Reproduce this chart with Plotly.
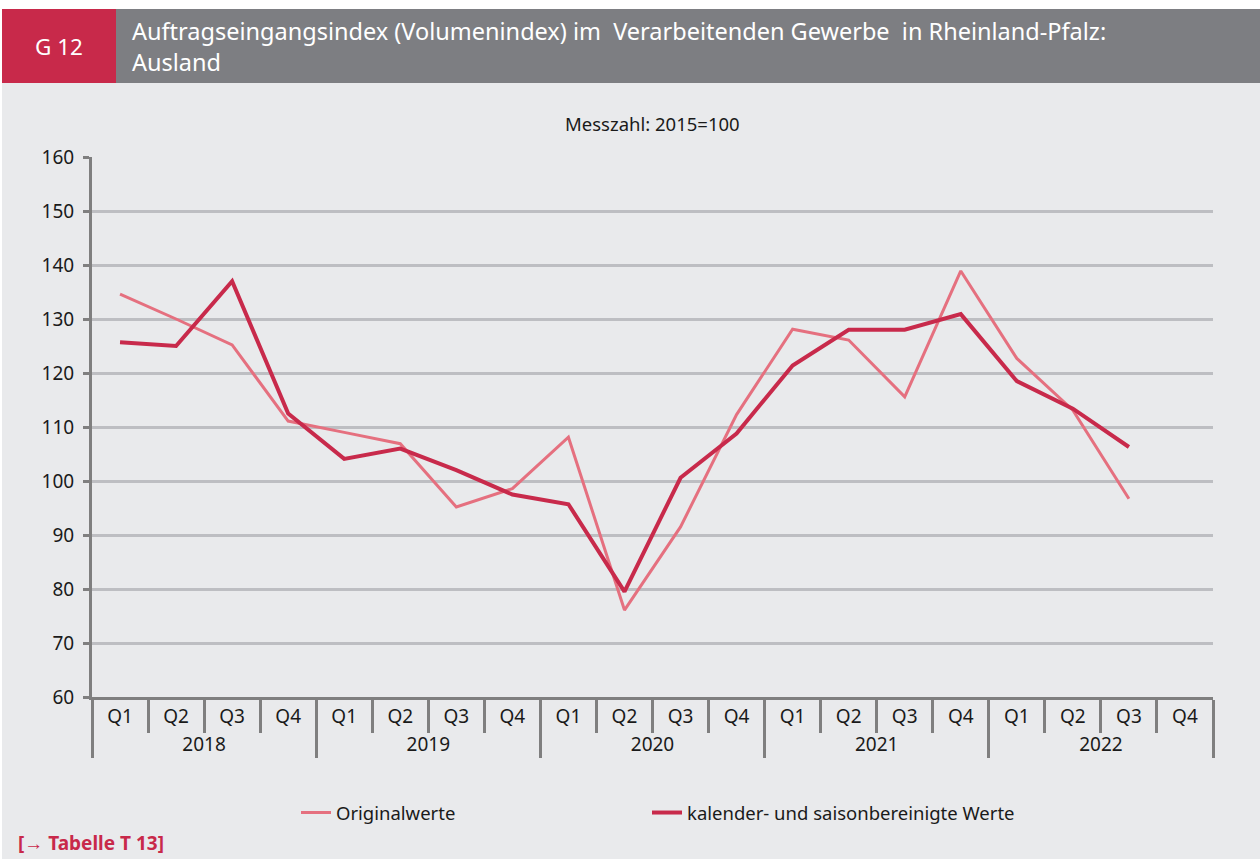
import plotly.graph_objects as go

years = ["2018", "2019", "2020", "2021", "2022"]
quarters = ["Q1", "Q2", "Q3", "Q4"]

original = [134.6, 130.0, 125.2, 111.1, 109.0, 106.9, 95.2, 98.6,
            108.1, 76.1, 91.5, 112.3, 128.1, 126.1, 115.6, 138.9,
            122.7, 113.1, 96.7, None]
adjusted = [125.7, 125.0, 137.0, 112.5, 104.1, 106.0, 102.0, 97.5,
            95.7, 79.5, 100.6, 108.8, 121.4, 128.0, 128.0, 130.9,
            118.5, 113.4, 106.3, None]

y_ticks = [60, 70, 80, 90, 100, 110, 120, 130, 140, 150, 160]

x_years = [y for y in years for q in quarters]
x_quarters = [q for y in years for q in quarters]

PINK = "#e5707f"
RED = "#c82a4b"
BG = "#e9eaec"
GRID = "#bdbec2"
AXIS = "#7f7f7f"
FONT = "Noto Sans"
TXT = "#1a1a1a"

W, H = 1260, 859
L, R, T, B = 92, 47, 157, 162
PW = W - L - R
PH = H - T - B


def px(x):
    return (x - L) / PW


def py(y):
    return (H - B - y) / PH


fig = go.Figure()
fig.add_trace(go.Scatter(x=[x_years, x_quarters], y=original, mode="lines",
                         name="Originalwerte", line=dict(color=PINK, width=3),
                         legend="legend"))
fig.add_trace(go.Scatter(x=[x_years, x_quarters], y=adjusted, mode="lines",
                         name="kalender- und saisonbereinigte Werte",
                         line=dict(color=RED, width=4), legend="legend2"))

shapes = [
    dict(type="rect", xref="paper", yref="paper", x0=px(-5), x1=px(W + 5),
         y0=py(9), y1=py(-5), fillcolor="white", line_width=0, layer="below"),
    dict(type="rect", xref="paper", yref="paper", x0=px(-5), x1=px(2),
         y0=py(H + 5), y1=py(-5), fillcolor="white", line_width=0, layer="below"),
    dict(type="rect", xref="paper", yref="paper", x0=px(2), x1=px(W + 5),
         y0=py(83), y1=py(9), fillcolor="#7d7e82", line_width=0, layer="below"),
    dict(type="rect", xref="paper", yref="paper", x0=px(2), x1=px(116),
         y0=py(83), y1=py(9), fillcolor="#c8294a", line_width=0, layer="below"),
]

annotations = [
    dict(text="G 12", xref="paper", yref="paper", x=px(59), y=py(46),
         showarrow=False, font=dict(family=FONT, size=22.5, color="white"),
         xanchor="center", yanchor="middle"),
    dict(text="Auftragseingangsindex (Volumenindex) im  Verarbeitenden Gewerbe  in Rheinland-Pfalz:<br>Ausland",
         xref="paper", yref="paper", x=px(130), y=py(47), showarrow=False,
         align="left", font=dict(family=FONT, size=23.5, color="white"),
         xanchor="left", yanchor="middle"),
    dict(text="Messzahl: 2015=100", xref="paper", yref="paper", x=0.5, y=py(123),
         showarrow=False, font=dict(family=FONT, size=18.5, color=TXT),
         xanchor="center", yanchor="middle"),
    dict(text="<b>[→ Tabelle T 13]</b>", xref="paper", yref="paper", x=px(16), y=py(843),
         showarrow=False, font=dict(family=FONT, size=19, color="#c8294a"),
         xanchor="left", yanchor="middle"),
]

legend_common = dict(orientation="h", yanchor="middle", xanchor="left",
                     font=dict(family=FONT, size=18.5, color=TXT),
                     bgcolor="rgba(0,0,0,0)")

fig.update_layout(
    width=W, height=H,
    margin=dict(l=L, r=R, t=T, b=B),
    paper_bgcolor=BG, plot_bgcolor=BG,
    font=dict(family=FONT, size=18, color=TXT),
    shapes=shapes, annotations=annotations,
    showlegend=True,
    legend=dict(x=px(296), y=py(813), **legend_common),
    legend2=dict(x=px(647), y=py(813), **legend_common),
    xaxis=dict(type="multicategory", range=[-0.5, 19.5], showline=True, linecolor=AXIS,
               linewidth=3, ticks="outside", tickson="boundaries", ticklen=33, tickwidth=3,
               tickcolor=AXIS, showdividers=True, dividercolor=AXIS, dividerwidth=3,
               showgrid=False, tickfont=dict(family=FONT, size=19, color=TXT)),
    yaxis=dict(range=[60, 160], tickvals=y_ticks, showgrid=True, gridcolor=GRID,
               gridwidth=3, showline=True, linecolor=AXIS, linewidth=3,
               ticks="outside", ticklen=6, tickwidth=3, tickcolor=AXIS,
               ticklabelstandoff=5,
               zeroline=False, tickfont=dict(family=FONT, size=19, color=TXT)),
)

fig.write_html("out.html", config={"displayModeBar": False},
               post_script="document.body.style.margin='0';")
